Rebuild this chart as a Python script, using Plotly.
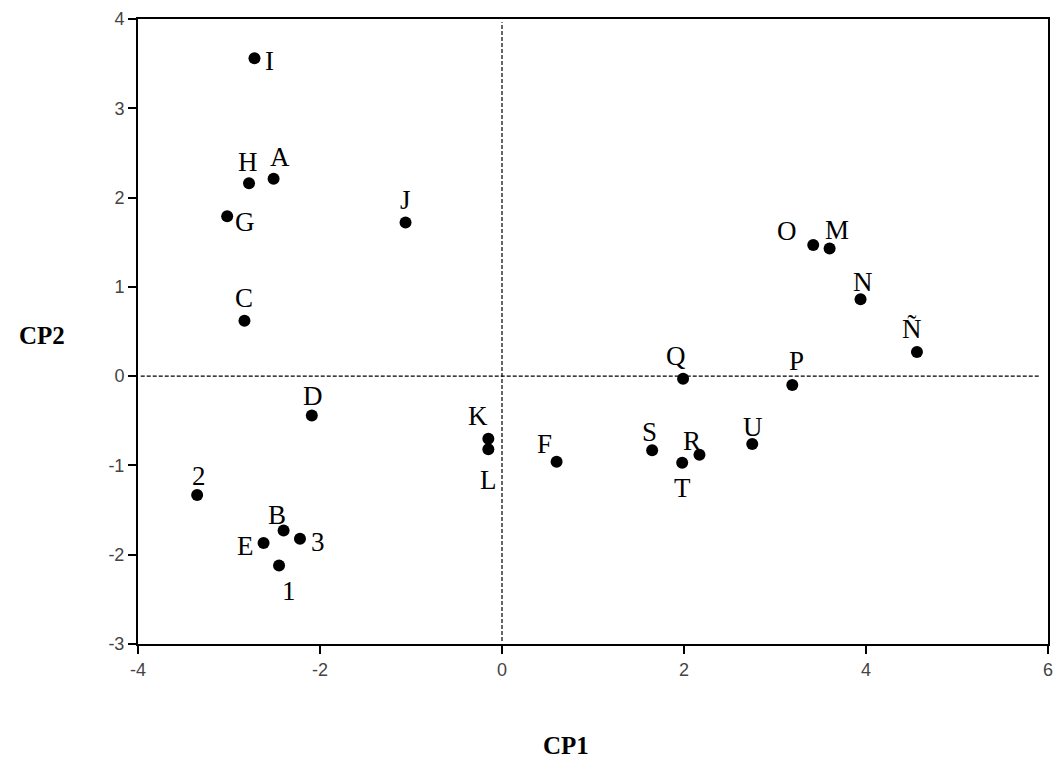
import plotly.graph_objects as go

# Data (PCA scores)
labels = ["I", "H", "A", "G", "J", "C", "O", "M", "N", "Ñ", "Q", "P",
          "F", "S", "R", "T", "U", "D", "K", "L", "2", "B", "3", "E", "1"]
cp1 = [-2.72, -2.78, -2.51, -3.02, -1.06, -2.83, 3.42, 3.60, 3.94, 4.56, 1.99, 3.19,
       0.60, 1.65, 2.17, 1.98, 2.75, -2.09, -0.15, -0.15, -3.35, -2.40, -2.22, -2.62, -2.45]
cp2 = [3.56, 2.16, 2.21, 1.79, 1.72, 0.62, 1.47, 1.43, 0.86, 0.27, -0.03, -0.10,
       -0.96, -0.83, -0.88, -0.97, -0.76, -0.44, -0.70, -0.82, -1.33, -1.73, -1.82, -1.87, -2.12]

x_ticks = [-4, -2, 0, 2, 4, 6]
x_ticktext = ["-4", "-2", "0", "2", "4", "6"]
y_ticks = [-3, -2, -1, 0, 1, 2, 3, 4]
y_ticktext = ["-3", "-2", "-1", "0", "1", "2", "3", "4"]

# label placement offsets in pixels (dx, dy; dy positive = up)
label_offsets = {
    "I": (15, -3), "H": (-1, 21), "A": (6, 22), "G": (18, -6), "J": (0, 23),
    "C": (0, 23), "O": (-26, 14), "M": (7, 18), "N": (2, 17), "Ñ": (-5, 23),
    "Q": (-7, 23), "P": (4, 24), "F": (-12, 18), "S": (-3, 18), "R": (-7, 14),
    "T": (0, -25), "U": (1, 17), "D": (1, 19), "K": (-10, 23), "L": (0, -31),
    "2": (2, 19), "B": (-7, 16), "3": (18, -3), "E": (-18, -3), "1": (10, -26),
}

fig = go.Figure()
fig.add_trace(go.Scatter(
    x=cp1, y=cp2, mode="markers",
    marker=dict(symbol="circle", size=12, color="black"),
    hoverinfo="text", text=labels, showlegend=False,
))

for lab, xv, yv in zip(labels, cp1, cp2):
    dx, dy = label_offsets[lab]
    fig.add_annotation(x=xv, y=yv, text=lab, showarrow=False,
                       xshift=dx, yshift=dy,
                       font=dict(family="Liberation Serif", size=27, color="black"))

# dashed reference lines
fig.add_shape(type="line", xref="x", yref="paper", x0=0, x1=0, y0=0.005, y1=0.995,
              line=dict(color="black", width=1.2, dash="4px,2px"))
fig.add_shape(type="line", xref="paper", yref="y", x0=0.003, x1=0.99, y0=0, y1=0,
              line=dict(color="black", width=1.2, dash="4px,2px"))

fig.add_annotation(xref="paper", yref="paper", x=0.47, y=-0.162, text="<b>CP1</b>",
                   showarrow=False, xanchor="center", yanchor="middle",
                   font=dict(family="Liberation Serif", size=25, color="black"))
fig.add_annotation(xref="paper", yref="paper", x=-0.106, y=0.494, text="<b>CP2</b>",
                   showarrow=False, xanchor="center", yanchor="middle",
                   font=dict(family="Liberation Serif", size=25, color="black"))

axis_common = dict(showgrid=False, zeroline=False, showline=True, linecolor="black",
                   linewidth=2, mirror=True, ticks="outside", ticklen=8, tickwidth=2,
                   tickcolor="black",
                   tickfont=dict(family="Liberation Sans", size=18, color="#444444"))

fig.update_xaxes(range=[-4, 6], tickvals=x_ticks, ticktext=x_ticktext, **axis_common)
fig.update_yaxes(range=[-3, 4], tickvals=y_ticks, ticktext=y_ticktext, **axis_common)

fig.update_layout(
    width=1060, height=761,
    margin=dict(l=138, r=7, t=19, b=117),
    paper_bgcolor="white", plot_bgcolor="white",
)

fig.write_html(
    "out.html",
    config={"displayModeBar": False},
    post_script="document.body.style.margin='0';document.body.style.overflow='hidden';",
)
